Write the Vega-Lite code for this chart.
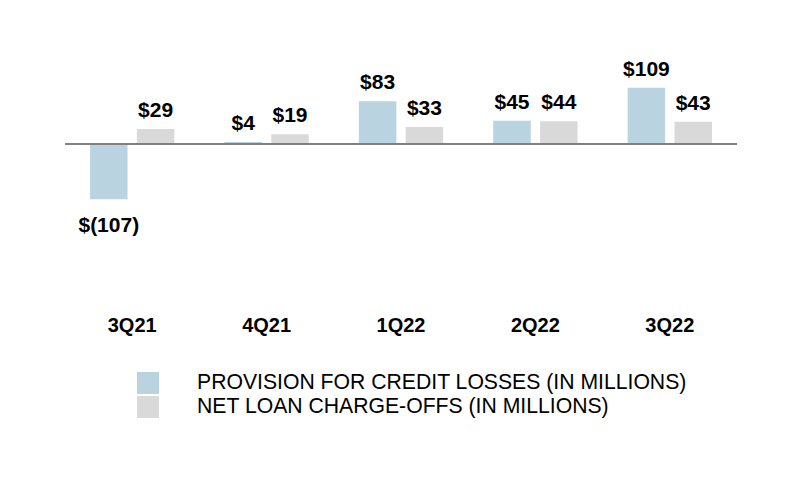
{
  "$schema": "https://vega.github.io/schema/vega-lite/v6.json",
  "width": 672,
  "height": 273,
  "padding": {"left": 65, "top": 41, "right": 63, "bottom": 178},
  "autosize": {"type": "none"},
  "background": "white",
  "config": {"view": {"stroke": null}, "font": "Liberation Sans"},
  "data": {
    "values": [
      {"quarter": "3Q21", "series": "PROVISION FOR CREDIT LOSSES (IN MILLIONS)", "value": -107, "label": "$(107)"},
      {"quarter": "3Q21", "series": "NET LOAN CHARGE-OFFS (IN MILLIONS)", "value": 29, "label": "$29"},
      {"quarter": "4Q21", "series": "PROVISION FOR CREDIT LOSSES (IN MILLIONS)", "value": 4, "label": "$4"},
      {"quarter": "4Q21", "series": "NET LOAN CHARGE-OFFS (IN MILLIONS)", "value": 19, "label": "$19"},
      {"quarter": "1Q22", "series": "PROVISION FOR CREDIT LOSSES (IN MILLIONS)", "value": 83, "label": "$83"},
      {"quarter": "1Q22", "series": "NET LOAN CHARGE-OFFS (IN MILLIONS)", "value": 33, "label": "$33"},
      {"quarter": "2Q22", "series": "PROVISION FOR CREDIT LOSSES (IN MILLIONS)", "value": 45, "label": "$45"},
      {"quarter": "2Q22", "series": "NET LOAN CHARGE-OFFS (IN MILLIONS)", "value": 44, "label": "$44"},
      {"quarter": "3Q22", "series": "PROVISION FOR CREDIT LOSSES (IN MILLIONS)", "value": 109, "label": "$109"},
      {"quarter": "3Q22", "series": "NET LOAN CHARGE-OFFS (IN MILLIONS)", "value": 43, "label": "$43"}
    ]
  },
  "encoding": {
    "x": {
      "field": "quarter", "type": "nominal",
      "sort": ["3Q21", "4Q21", "1Q22", "2Q22", "3Q22"],
      "scale": {"paddingInner": 0, "paddingOuter": 0},
      "axis": {"title": null, "domain": false, "ticks": false, "labelAngle": 0, "labelFontSize": 20, "labelFontWeight": "bold", "labelColor": "#000000", "labelPadding": 1}
    },
    "xOffset": {
      "field": "series", "type": "nominal",
      "sort": ["PROVISION FOR CREDIT LOSSES (IN MILLIONS)", "NET LOAN CHARGE-OFFS (IN MILLIONS)"],
      "scale": {"paddingInner": 0.199, "paddingOuter": 0.535}
    },
    "y": {
      "field": "value", "type": "quantitative",
      "scale": {"domain": [-330, 200], "nice": false, "zero": true},
      "axis": null
    }
  },
  "layer": [
    {
      "mark": {"type": "bar"},
      "encoding": {
        "color": {
          "field": "series", "type": "nominal",
          "scale": {"domain": ["PROVISION FOR CREDIT LOSSES (IN MILLIONS)", "NET LOAN CHARGE-OFFS (IN MILLIONS)"], "range": ["#bad3e0", "#d9d9d9"]},
          "legend": {
            "title": null, "orient": "none", "legendX": 72, "legendY": 331,
            "symbolType": "square", "symbolSize": 484, "symbolStrokeWidth": 0,
            "labelFontSize": 21.2, "labelColor": "#000000", "labelOffset": 38,
            "rowPadding": 2, "padding": 0, "labelLimit": 0
          }
        }
      }
    },
    {
      "transform": [{"filter": "datum.value >= 0"}],
      "mark": {"type": "text", "baseline": "alphabetic", "dy": -12, "fontSize": 21, "fontWeight": "bold", "color": "#000000"},
      "encoding": {"text": {"field": "label"}}
    },
    {
      "transform": [{"filter": "datum.value < 0"}],
      "mark": {"type": "text", "baseline": "alphabetic", "dy": 33, "fontSize": 21, "fontWeight": "bold", "color": "#000000"},
      "encoding": {"text": {"field": "label"}}
    },
    {
      "data": {"values": [{"zero": 0}]},
      "mark": {"type": "rule", "color": "#7f7f7f", "strokeWidth": 2},
      "encoding": {"x": null, "xOffset": null, "y": {"field": "zero", "type": "quantitative"}}
    }
  ]
}
